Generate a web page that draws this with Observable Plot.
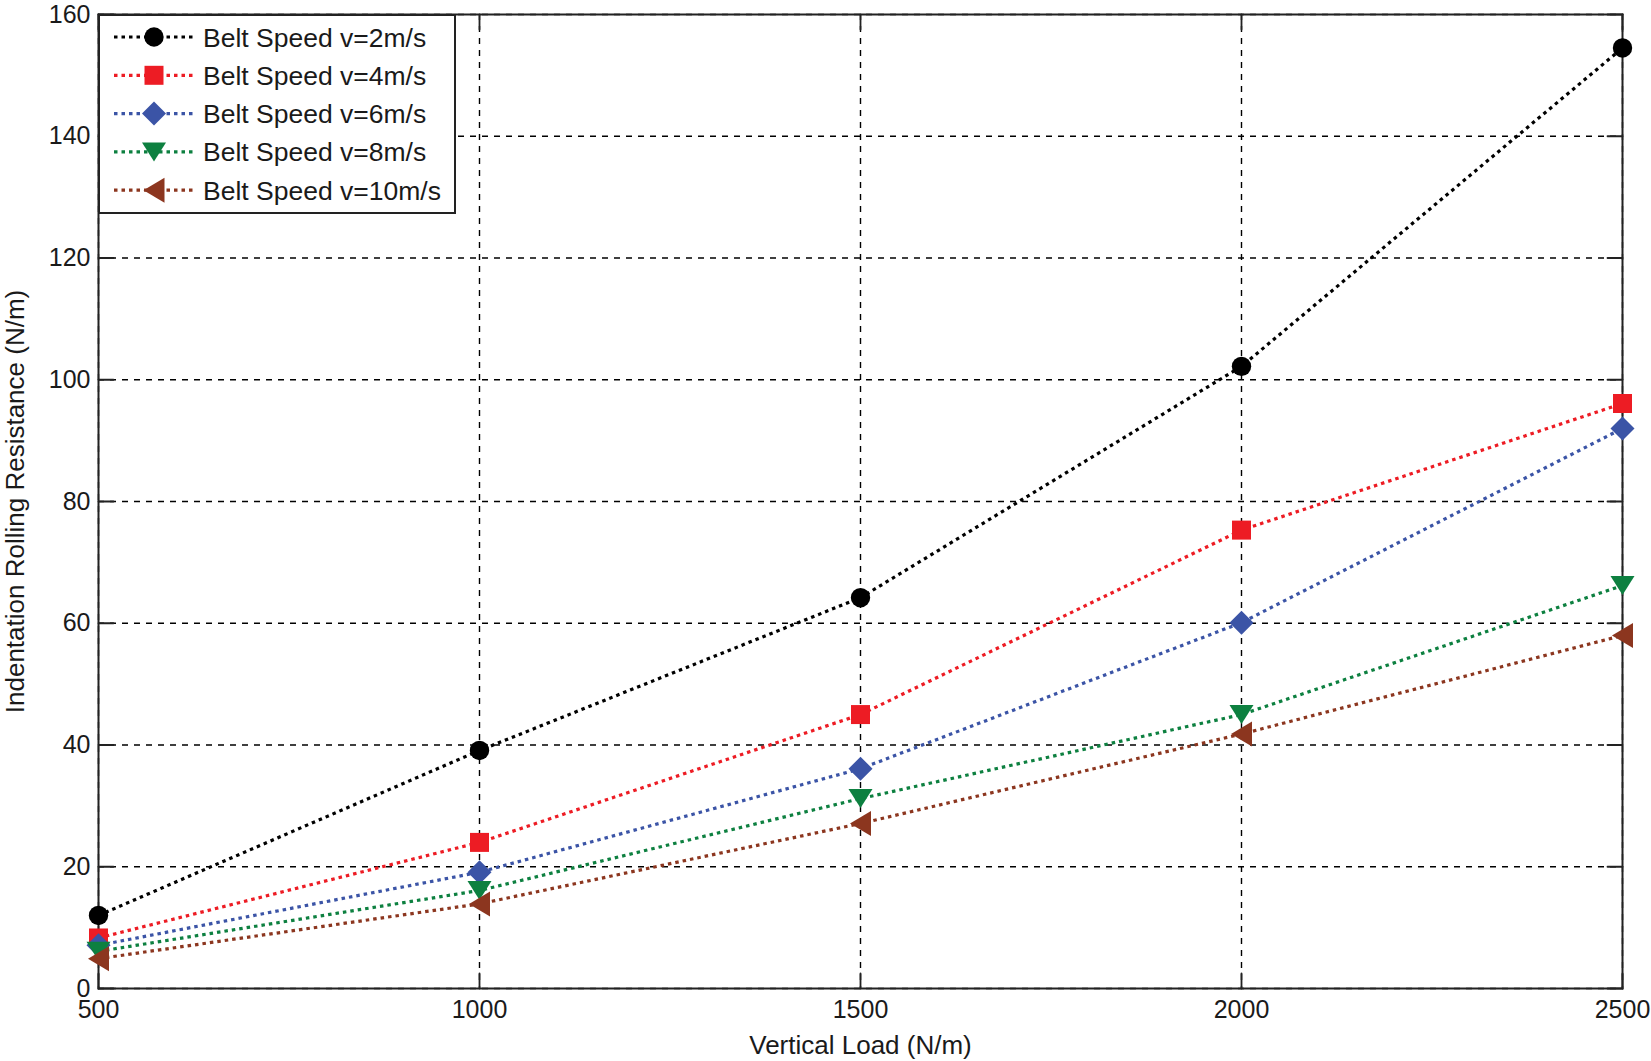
<!DOCTYPE html>
<html><head><meta charset="utf-8">
<script src="https://cdn.jsdelivr.net/npm/d3@7"></script>
<script src="https://cdn.jsdelivr.net/npm/@observablehq/plot@0.6"></script>
<style>
html,body{margin:0;padding:0;background:#fff;}
#wrap{position:relative;width:1651px;height:1061px;font-family:"Liberation Sans",Arial,sans-serif;}
#legend{position:absolute;left:98px;top:14px;}
</style></head><body><div id="wrap"></div>
<script>
// ---- data ----
const loads = [500, 1000, 1500, 2000, 2500];
const seriesNames = ["Belt Speed v=2m/s", "Belt Speed v=4m/s", "Belt Speed v=6m/s", "Belt Speed v=8m/s", "Belt Speed v=10m/s"];
const v2  = [12.0, 39.1, 64.2, 102.2, 154.5];
const v4  = [8.3, 24.0, 45.0, 75.3, 96.1];
const v6  = [7.1, 19.1, 36.1, 60.1, 92.0];
const v8  = [6.1, 16.1, 31.2, 45.0, 66.2];
const v10 = [4.9, 13.9, 27.1, 41.8, 58.0];
const xTicks = [500, 1000, 1500, 2000, 2500];
const yTicks = [0, 20, 40, 60, 80, 100, 120, 140, 160];
const xLabel = "Vertical Load (N/m)";
const yLabel = "Indentation Rolling Resistance (N/m)";

// ---- styles ----
const colors = ["#000000", "#ed1c24", "#3b54a6", "#0d8040", "#8c361f"];
const symSquare = {draw(c, s) { const u = Math.sqrt(s / Math.PI) * 0.95; c.rect(-u, -u, 2 * u, 2 * u); }};
const symDiamond = {draw(c, s) { const u = Math.sqrt(s / Math.PI) * 1.2; c.moveTo(0, -u); c.lineTo(u, 0); c.lineTo(0, u); c.lineTo(-u, 0); c.closePath(); }};
const symDown = {draw(c, s) { const u = Math.sqrt(s / Math.PI); c.moveTo(-1.2 * u, -0.95 * u); c.lineTo(1.2 * u, -0.95 * u); c.lineTo(0, 0.95 * u); c.closePath(); }};
const symLeft = {draw(c, s) { const u = Math.sqrt(s / Math.PI); c.moveTo(-1.05 * u, 0); c.lineTo(1.05 * u, -1.25 * u); c.lineTo(1.05 * u, 1.25 * u); c.closePath(); }};
const symbols = ["circle", symSquare, symDiamond, symDown, symLeft];
const radii = [9.7, 10, 10, 10, 10];
const lineDash = "3.5,4";
const lineWidth = 3.2;
const seriesValues = [v2, v4, v6, v8, v10];

const rows = seriesValues.flatMap((vals, i) => loads.map((x, j) => ({x, y: vals[j], s: seriesNames[i]})));

const tickShape = {draw(c, l) { c.moveTo(0, 0); c.lineTo(0, -l); }};
const tickStyle = {length: 15, anchor: "start", shape: tickShape, stroke: "#222", strokeWidth: 1.8};

const marks = [
  Plot.gridX(xTicks, {stroke: "#000", strokeOpacity: 1, strokeWidth: 1.4, strokeDasharray: "6,6"}),
  Plot.gridY(yTicks, {stroke: "#000", strokeOpacity: 1, strokeWidth: 1.4, strokeDasharray: "6,6"}),
  Plot.vector(xTicks, {x: d => d, frameAnchor: "bottom", rotate: 0, ...tickStyle}),
  Plot.vector(xTicks, {x: d => d, frameAnchor: "top", rotate: 180, ...tickStyle}),
  Plot.vector(yTicks, {y: d => d, frameAnchor: "left", rotate: 90, ...tickStyle}),
  Plot.vector(yTicks, {y: d => d, frameAnchor: "right", rotate: -90, ...tickStyle}),
  Plot.frame({stroke: "#222", strokeWidth: 2}),
  Plot.axisX(xTicks, {tickSize: 0, tickPadding: 12, fontSize: 25, tickFormat: d => String(d)}),
  Plot.axisY(yTicks, {tickSize: 0, tickPadding: 8, fontSize: 25, tickFormat: d => String(d)}),
  Plot.text([xLabel], {text: d => d, frameAnchor: "bottom", dy: 57, lineAnchor: "middle", textAnchor: "middle", fontSize: 26}),
  Plot.text([yLabel], {text: d => d, frameAnchor: "left", dx: -83, rotate: -90, lineAnchor: "middle", textAnchor: "middle", fontSize: 26})
];
seriesNames.forEach((name, i) => {
  const data = rows.filter(r => r.s === name);
  marks.push(Plot.line(data, {x: "x", y: "y", stroke: colors[i], strokeWidth: lineWidth, strokeDasharray: lineDash, strokeLinecap: "butt"}));
});
seriesNames.forEach((name, i) => {
  const data = rows.filter(r => r.s === name);
  marks.push(Plot.dot(data, {x: "x", y: "y", symbol: symbols[i], r: radii[i], fill: colors[i], stroke: null}));
});

const chart = Plot.plot({
  width: 1651, height: 1061,
  marginLeft: 98, marginRight: 29, marginTop: 14, marginBottom: 73,
  style: {fontFamily: "'Liberation Sans', Arial, sans-serif", fontSize: "25px", color: "#1a1a1a", background: "white", overflow: "visible"},
  x: {domain: [500, 2500], label: null},
  y: {domain: [0, 160], label: null},
  marks
});
document.getElementById("wrap").appendChild(chart);

// ---- legend (overlay) ----
const lg = d3.create("svg").attr("id", "legend").attr("width", 358).attr("height", 200);
lg.append("rect").attr("x", 1).attr("y", 1).attr("width", 356).attr("height", 198)
  .attr("fill", "white").attr("stroke", "#222").attr("stroke-width", 2);
seriesNames.forEach((name, i) => {
  const cy = 23 + i * 38.3;
  lg.append("line").attr("x1", 16).attr("x2", 95).attr("y1", cy).attr("y2", cy)
    .attr("stroke", colors[i]).attr("stroke-width", lineWidth).attr("stroke-dasharray", lineDash);
  const r = radii[i];
  if (symbols[i] === "circle") {
    lg.append("circle").attr("cx", 56).attr("cy", cy).attr("r", r).attr("fill", colors[i]);
  } else {
    lg.append("path").attr("transform", `translate(56,${cy})`)
      .attr("d", d3.symbol(symbols[i], Math.PI * r * r)()).attr("fill", colors[i]);
  }
  lg.append("text").attr("x", 105).attr("y", cy).attr("dy", "0.36em")
    .attr("font-family", "'Liberation Sans', Arial, sans-serif").attr("font-size", 26.5).attr("fill", "#1a1a1a")
    .text(name);
});
document.getElementById("wrap").appendChild(lg.node());
</script>
</body></html>
